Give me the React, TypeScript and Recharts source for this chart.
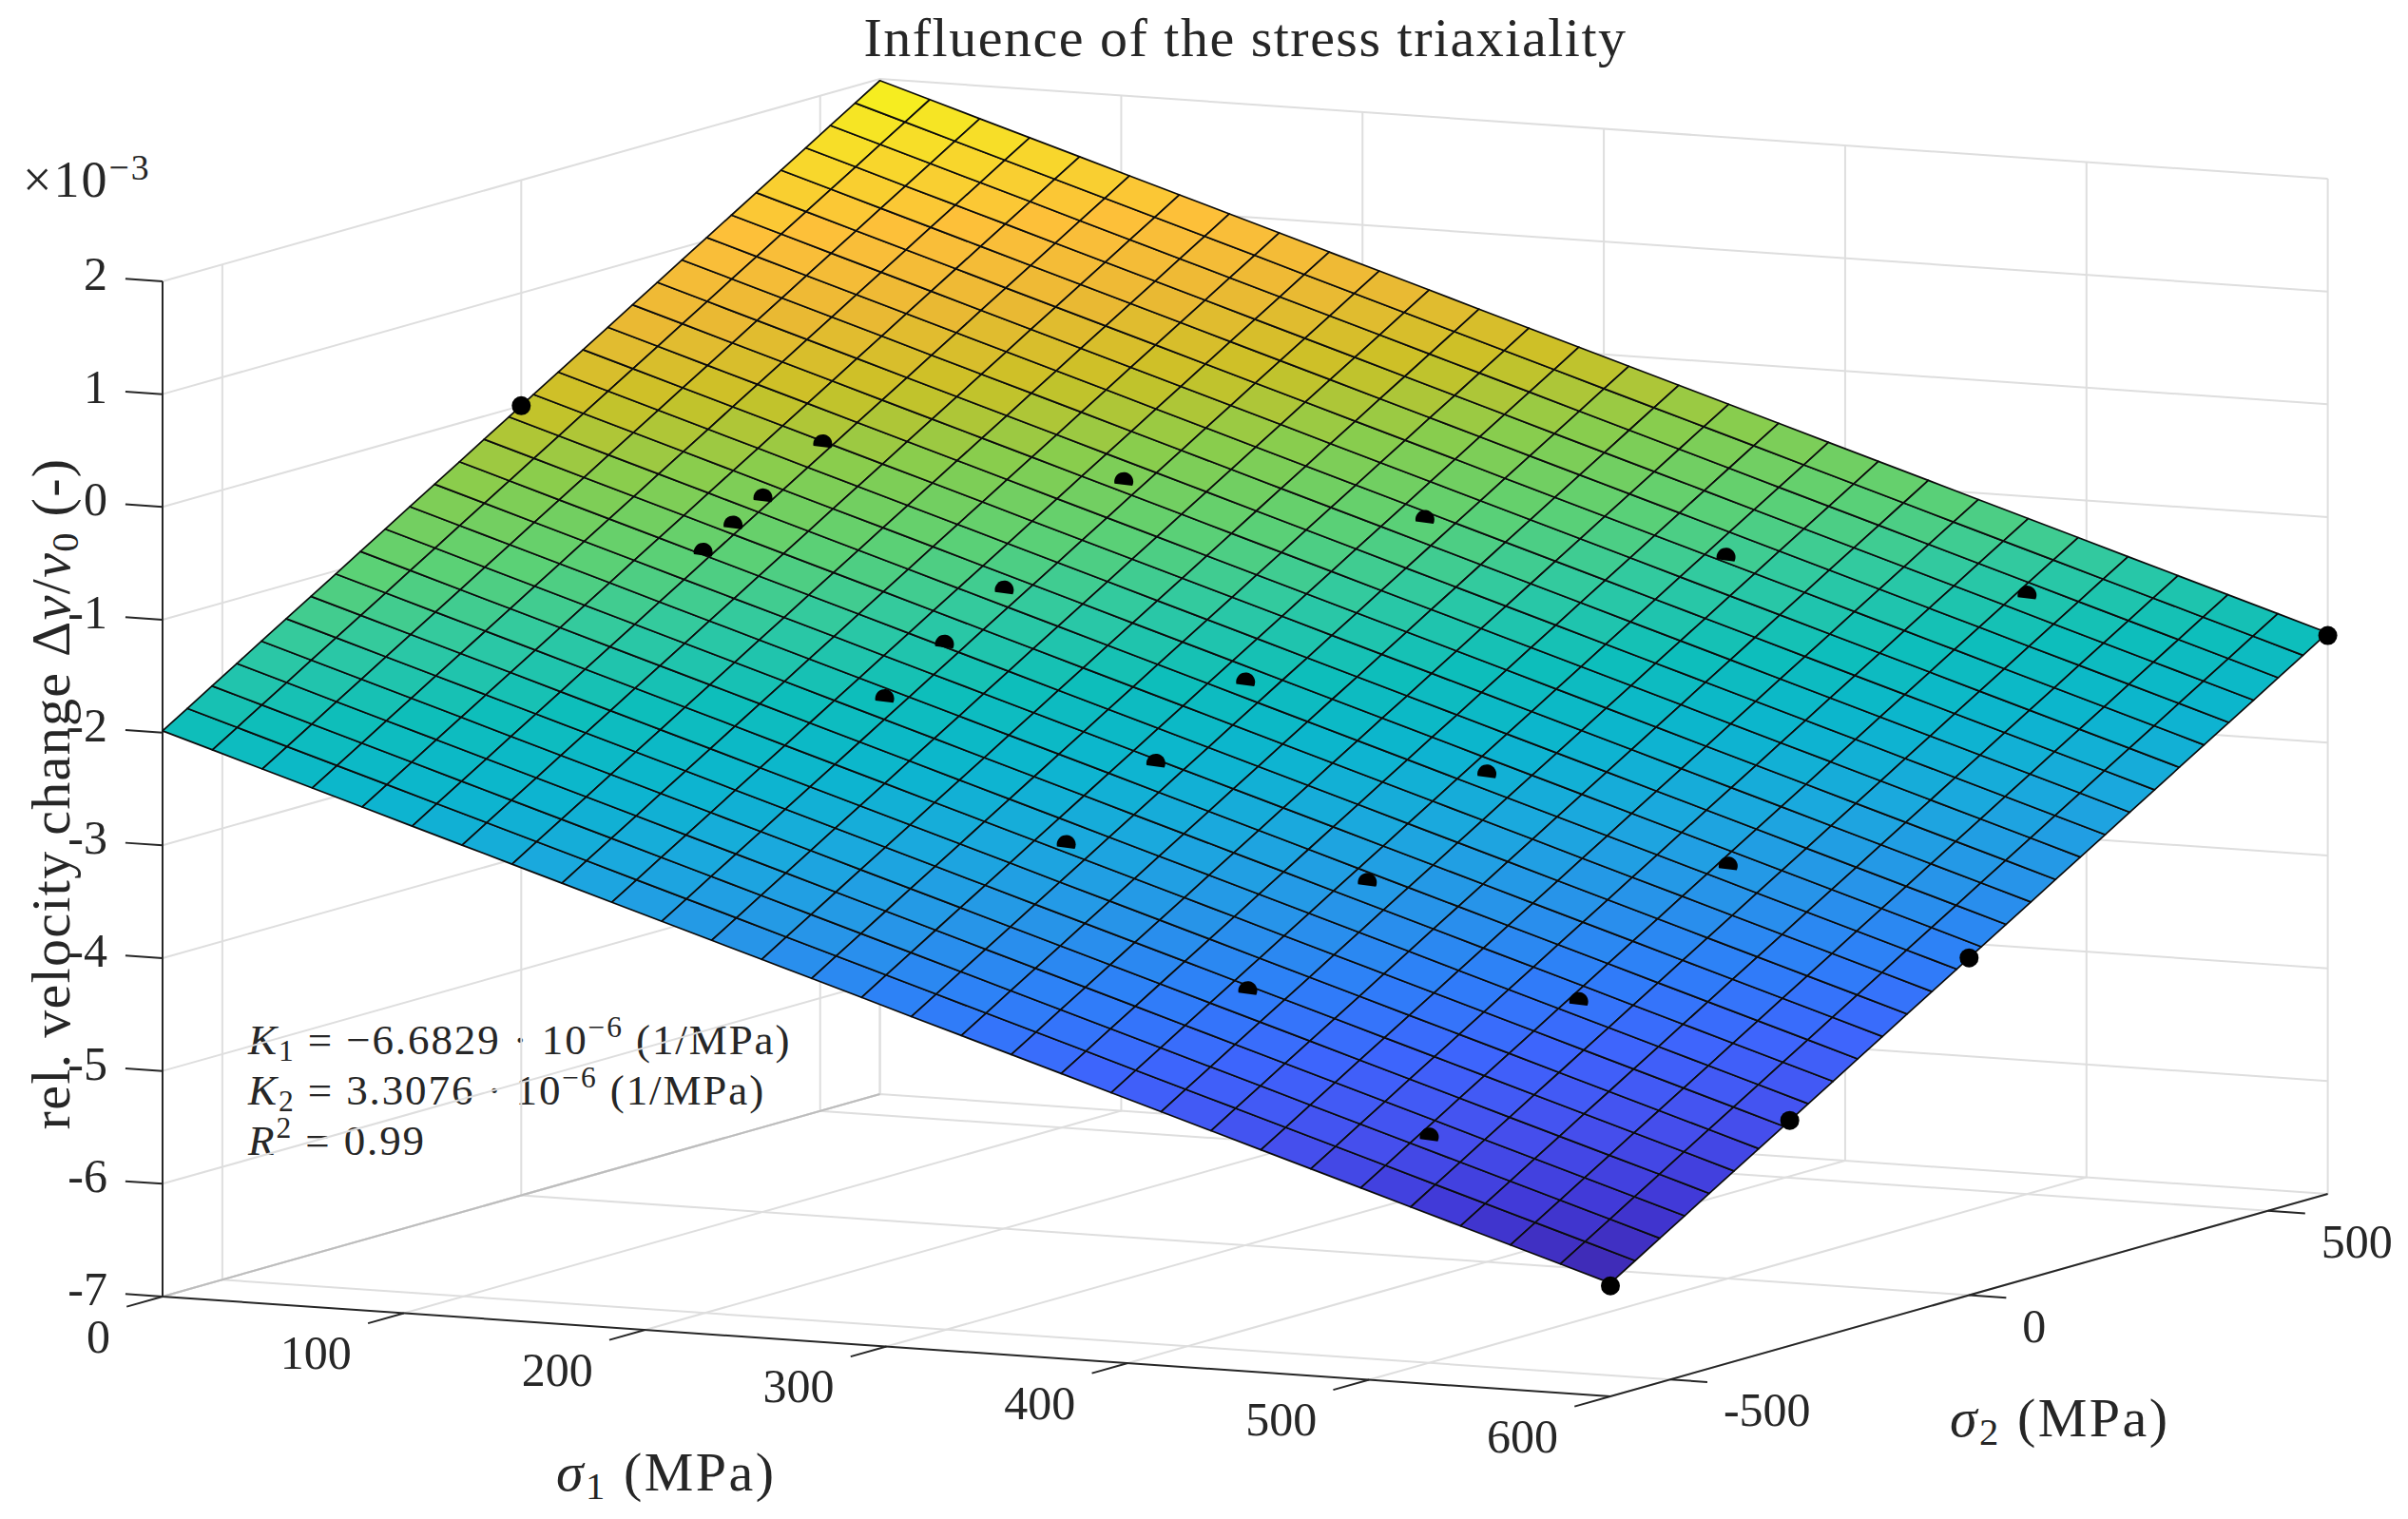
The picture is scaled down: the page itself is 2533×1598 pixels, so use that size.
import { ScatterChart, Scatter, XAxis, YAxis } from "recharts";

const W = 2533;
const H = 1598;
const FONT = "'Liberation Serif', serif";
const INK = "#262626";

// mesh nodes, MPa
const sigma1Nodes = [0, 20.69, 41.38, 62.07, 82.76, 103.45, 124.14, 144.83, 165.52, 186.21, 206.9, 227.59, 248.28, 268.97, 289.66, 310.34, 331.03, 351.72, 372.41, 393.1, 413.79, 434.48, 455.17, 475.86, 496.55, 517.24, 537.93, 558.62, 579.31, 600];
const sigma2Nodes = [-600, -558.62, -517.24, -475.86, -434.48, -393.1, -351.72, -310.34, -268.97, -227.59, -186.21, -144.83, -103.45, -62.07, -20.69, 20.69, 62.07, 103.45, 144.83, 186.21, 227.59, 268.97, 310.34, 351.72, 393.1, 434.48, 475.86, 517.24, 558.62, 600];

// surface height (x 10^-3), one row per sigma1 node
const surfaceZ = [
  [-1.985,-1.848,-1.711,-1.574,-1.437,-1.300,-1.164,-1.027,-0.890,-0.753,-0.616,-0.479,-0.342,-0.205,-0.068,0.069,0.205,0.342,0.479,0.616,0.753,0.890,1.027,1.164,1.301,1.438,1.574,1.711,1.848,1.985],
  [-2.123,-1.986,-1.849,-1.712,-1.575,-1.438,-1.302,-1.165,-1.028,-0.891,-0.754,-0.617,-0.480,-0.343,-0.206,-0.069,0.067,0.204,0.341,0.478,0.615,0.752,0.889,1.026,1.163,1.300,1.436,1.573,1.710,1.847],
  [-2.262,-2.125,-1.988,-1.851,-1.714,-1.577,-1.441,-1.304,-1.167,-1.030,-0.893,-0.756,-0.619,-0.482,-0.345,-0.208,-0.072,0.065,0.202,0.339,0.476,0.613,0.750,0.887,1.024,1.161,1.297,1.434,1.571,1.708],
  [-2.400,-2.263,-2.126,-1.989,-1.852,-1.715,-1.579,-1.442,-1.305,-1.168,-1.031,-0.894,-0.757,-0.620,-0.483,-0.346,-0.210,-0.073,0.064,0.201,0.338,0.475,0.612,0.749,0.886,1.023,1.159,1.296,1.433,1.570],
  [-2.538,-2.401,-2.264,-2.127,-1.990,-1.853,-1.717,-1.580,-1.443,-1.306,-1.169,-1.032,-0.895,-0.758,-0.621,-0.484,-0.348,-0.211,-0.074,0.063,0.200,0.337,0.474,0.611,0.748,0.885,1.021,1.158,1.295,1.432],
  [-2.677,-2.540,-2.403,-2.266,-2.129,-1.992,-1.856,-1.719,-1.582,-1.445,-1.308,-1.171,-1.034,-0.897,-0.760,-0.623,-0.487,-0.350,-0.213,-0.076,0.061,0.198,0.335,0.472,0.609,0.746,0.882,1.019,1.156,1.293],
  [-2.815,-2.678,-2.541,-2.404,-2.267,-2.130,-1.994,-1.857,-1.720,-1.583,-1.446,-1.309,-1.172,-1.035,-0.898,-0.761,-0.625,-0.488,-0.351,-0.214,-0.077,0.060,0.197,0.334,0.471,0.608,0.744,0.881,1.018,1.155],
  [-2.953,-2.816,-2.679,-2.542,-2.405,-2.268,-2.132,-1.995,-1.858,-1.721,-1.584,-1.447,-1.310,-1.173,-1.036,-0.899,-0.763,-0.626,-0.489,-0.352,-0.215,-0.078,0.059,0.196,0.333,0.470,0.606,0.743,0.880,1.017],
  [-3.091,-2.954,-2.817,-2.680,-2.543,-2.406,-2.270,-2.133,-1.996,-1.859,-1.722,-1.585,-1.448,-1.311,-1.174,-1.037,-0.901,-0.764,-0.627,-0.490,-0.353,-0.216,-0.079,0.058,0.195,0.332,0.468,0.605,0.742,0.879],
  [-3.230,-3.093,-2.956,-2.819,-2.682,-2.545,-2.409,-2.272,-2.135,-1.998,-1.861,-1.724,-1.587,-1.450,-1.313,-1.176,-1.040,-0.903,-0.766,-0.629,-0.492,-0.355,-0.218,-0.081,0.056,0.193,0.329,0.466,0.603,0.740],
  [-3.368,-3.231,-3.094,-2.957,-2.820,-2.683,-2.547,-2.410,-2.273,-2.136,-1.999,-1.862,-1.725,-1.588,-1.451,-1.314,-1.178,-1.041,-0.904,-0.767,-0.630,-0.493,-0.356,-0.219,-0.082,0.055,0.191,0.328,0.465,0.602],
  [-3.506,-3.369,-3.232,-3.095,-2.958,-2.821,-2.685,-2.548,-2.411,-2.274,-2.137,-2.000,-1.863,-1.726,-1.589,-1.452,-1.316,-1.179,-1.042,-0.905,-0.768,-0.631,-0.494,-0.357,-0.220,-0.083,0.053,0.190,0.327,0.464],
  [-3.645,-3.508,-3.371,-3.234,-3.097,-2.960,-2.824,-2.687,-2.550,-2.413,-2.276,-2.139,-2.002,-1.865,-1.728,-1.591,-1.455,-1.318,-1.181,-1.044,-0.907,-0.770,-0.633,-0.496,-0.359,-0.222,-0.086,0.051,0.188,0.325],
  [-3.783,-3.646,-3.509,-3.372,-3.235,-3.098,-2.962,-2.825,-2.688,-2.551,-2.414,-2.277,-2.140,-2.003,-1.866,-1.729,-1.593,-1.456,-1.319,-1.182,-1.045,-0.908,-0.771,-0.634,-0.497,-0.360,-0.224,-0.087,0.050,0.187],
  [-3.921,-3.784,-3.647,-3.510,-3.373,-3.236,-3.100,-2.963,-2.826,-2.689,-2.552,-2.415,-2.278,-2.141,-2.004,-1.867,-1.731,-1.594,-1.457,-1.320,-1.183,-1.046,-0.909,-0.772,-0.635,-0.498,-0.362,-0.225,-0.088,0.049],
  [-4.060,-3.923,-3.786,-3.649,-3.512,-3.375,-3.239,-3.102,-2.965,-2.828,-2.691,-2.554,-2.417,-2.280,-2.143,-2.006,-1.870,-1.733,-1.596,-1.459,-1.322,-1.185,-1.048,-0.911,-0.774,-0.637,-0.501,-0.364,-0.227,-0.090],
  [-4.198,-4.061,-3.924,-3.787,-3.650,-3.513,-3.377,-3.240,-3.103,-2.966,-2.829,-2.692,-2.555,-2.418,-2.281,-2.144,-2.008,-1.871,-1.734,-1.597,-1.460,-1.323,-1.186,-1.049,-0.912,-0.775,-0.639,-0.502,-0.365,-0.228],
  [-4.336,-4.199,-4.062,-3.925,-3.788,-3.651,-3.515,-3.378,-3.241,-3.104,-2.967,-2.830,-2.693,-2.556,-2.419,-2.282,-2.146,-2.009,-1.872,-1.735,-1.598,-1.461,-1.324,-1.187,-1.050,-0.913,-0.777,-0.640,-0.503,-0.366],
  [-4.474,-4.337,-4.200,-4.063,-3.926,-3.789,-3.653,-3.516,-3.379,-3.242,-3.105,-2.968,-2.831,-2.694,-2.557,-2.420,-2.284,-2.147,-2.010,-1.873,-1.736,-1.599,-1.462,-1.325,-1.188,-1.051,-0.915,-0.778,-0.641,-0.504],
  [-4.613,-4.476,-4.339,-4.202,-4.065,-3.928,-3.792,-3.655,-3.518,-3.381,-3.244,-3.107,-2.970,-2.833,-2.696,-2.559,-2.423,-2.286,-2.149,-2.012,-1.875,-1.738,-1.601,-1.464,-1.327,-1.190,-1.054,-0.917,-0.780,-0.643],
  [-4.751,-4.614,-4.477,-4.340,-4.203,-4.066,-3.930,-3.793,-3.656,-3.519,-3.382,-3.245,-3.108,-2.971,-2.834,-2.697,-2.561,-2.424,-2.287,-2.150,-2.013,-1.876,-1.739,-1.602,-1.465,-1.328,-1.192,-1.055,-0.918,-0.781],
  [-4.889,-4.752,-4.615,-4.478,-4.341,-4.204,-4.068,-3.931,-3.794,-3.657,-3.520,-3.383,-3.246,-3.109,-2.972,-2.835,-2.699,-2.562,-2.425,-2.288,-2.151,-2.014,-1.877,-1.740,-1.603,-1.466,-1.330,-1.193,-1.056,-0.919],
  [-5.028,-4.891,-4.754,-4.617,-4.480,-4.343,-4.207,-4.070,-3.933,-3.796,-3.659,-3.522,-3.385,-3.248,-3.111,-2.974,-2.838,-2.701,-2.564,-2.427,-2.290,-2.153,-2.016,-1.879,-1.742,-1.605,-1.469,-1.332,-1.195,-1.058],
  [-5.166,-5.029,-4.892,-4.755,-4.618,-4.481,-4.345,-4.208,-4.071,-3.934,-3.797,-3.660,-3.523,-3.386,-3.249,-3.112,-2.976,-2.839,-2.702,-2.565,-2.428,-2.291,-2.154,-2.017,-1.880,-1.743,-1.607,-1.470,-1.333,-1.196],
  [-5.304,-5.167,-5.030,-4.893,-4.756,-4.619,-4.483,-4.346,-4.209,-4.072,-3.935,-3.798,-3.661,-3.524,-3.387,-3.250,-3.114,-2.977,-2.840,-2.703,-2.566,-2.429,-2.292,-2.155,-2.018,-1.881,-1.745,-1.608,-1.471,-1.334],
  [-5.443,-5.306,-5.169,-5.032,-4.895,-4.758,-4.622,-4.485,-4.348,-4.211,-4.074,-3.937,-3.800,-3.663,-3.526,-3.389,-3.253,-3.116,-2.979,-2.842,-2.705,-2.568,-2.431,-2.294,-2.157,-2.020,-1.884,-1.747,-1.610,-1.473],
  [-5.581,-5.444,-5.307,-5.170,-5.033,-4.896,-4.760,-4.623,-4.486,-4.349,-4.212,-4.075,-3.938,-3.801,-3.664,-3.527,-3.391,-3.254,-3.117,-2.980,-2.843,-2.706,-2.569,-2.432,-2.295,-2.158,-2.022,-1.885,-1.748,-1.611],
  [-5.719,-5.582,-5.445,-5.308,-5.171,-5.034,-4.898,-4.761,-4.624,-4.487,-4.350,-4.213,-4.076,-3.939,-3.802,-3.665,-3.529,-3.392,-3.255,-3.118,-2.981,-2.844,-2.707,-2.570,-2.433,-2.296,-2.160,-2.023,-1.886,-1.749],
  [-5.857,-5.720,-5.583,-5.446,-5.309,-5.172,-5.036,-4.899,-4.762,-4.625,-4.488,-4.351,-4.214,-4.077,-3.940,-3.803,-3.667,-3.530,-3.393,-3.256,-3.119,-2.982,-2.845,-2.708,-2.571,-2.434,-2.298,-2.161,-2.024,-1.887],
  [-5.996,-5.859,-5.722,-5.585,-5.448,-5.311,-5.175,-5.038,-4.901,-4.764,-4.627,-4.490,-4.353,-4.216,-4.079,-3.942,-3.806,-3.669,-3.532,-3.395,-3.258,-3.121,-2.984,-2.847,-2.710,-2.573,-2.437,-2.300,-2.163,-2.026],
];

// measured points
const pointS1 = [0, 100, 200, 300, 400, 500, 600, 100, 100, 100, 200, 200, 200, 300, 300, 300, 400, 400, 400, 500, 500, 500, 600, 600, 600];
const pointS2 = [0, 100, 200, 300, 400, 500, 600, 0, -50, -100, 0, -100, -200, 0, -150, -300, 0, -200, -400, 0, -250, -500, 0, -300, -600];
const pointZ = [0, -0.338, -0.675, -1.013, -1.35, -1.688, -2.05, -0.668, -0.834, -1, -1.337, -1.668, -2, -2.005, -2.501, -2.997, -2.673, -3.335, -3.996, -3.342, -4.169, -4.996, -4.01, -5.002, -6.02];

// axis ticks
const s1Ticks = [0, 100, 200, 300, 400, 500, 600];
const s2Ticks = [-500, 0, 500];
const zTicks = [-7, -6, -5, -4, -3, -2, -1, 0, 1, 2];

// colour map, sampled along the surface
const colorZ = [-6, -5.5, -5, -4.5, -4, -3.5, -3, -2.5, -2, -1.5, -1, -0.5, 0, 0.5, 1, 1.5, 2];
const colorHex = ["#3f28ac", "#4037d5", "#4550ee", "#3e64fc", "#2e7ff8", "#2795e8", "#1ba8de", "#0cb5cf", "#0dbebb", "#2fc9a2", "#5ed173", "#88cd4e", "#cbc126", "#ebb934", "#fdbf3a", "#f7da2a", "#f5f51c"];

const S1_MIN = 0, S1_MAX = 600, S2_MIN = -600, S2_MAX = 600, Z_MIN = -7, Z_MAX = 2;

// orthographic view of the MATLAB box
function project(s1: number, s2: number, z: number) {
  return {
    x: 171 + s1 * (1523 / 600) + (s2 + 600) * (754.6 / 1200),
    y: 1364 + s1 * (105 / 600) - (s2 + 600) * (213 / 1200) - (z + 7) * 118.67,
  };
}

function colorOf(z: number) {
  let k = 0;
  while (k < colorZ.length - 2 && z > colorZ[k + 1]) k++;
  const t = Math.max(0, Math.min(1, (z - colorZ[k]) / (colorZ[k + 1] - colorZ[k])));
  const a = parseInt(colorHex[k].slice(1), 16);
  const b = parseInt(colorHex[k + 1].slice(1), 16);
  const mix = (sh: number) => Math.round(((a >> sh) & 255) * (1 - t) + ((b >> sh) & 255) * t);
  return `rgb(${mix(16)},${mix(8)},${mix(0)})`;
}

const cells: any[] = [];
for (let i = 0; i < sigma1Nodes.length - 1; i++) {
  for (let j = 0; j < sigma2Nodes.length - 1; j++) {
    const corners = [
      project(sigma1Nodes[i], sigma2Nodes[j], surfaceZ[i][j]),
      project(sigma1Nodes[i + 1], sigma2Nodes[j], surfaceZ[i + 1][j]),
      project(sigma1Nodes[i + 1], sigma2Nodes[j + 1], surfaceZ[i + 1][j + 1]),
      project(sigma1Nodes[i], sigma2Nodes[j + 1], surfaceZ[i][j + 1]),
    ];
    const mean = (surfaceZ[i][j] + surfaceZ[i + 1][j] + surfaceZ[i + 1][j + 1] + surfaceZ[i][j + 1]) / 4;
    cells.push({ ...corners[0], corners, fill: colorOf(mean) });
  }
}

const points = pointS1.map((s1, k) => ({ ...project(s1, pointS2[k], pointZ[k]), open: s1 === 0 || s1 === 600 }));

// box grid: two walls and the floor
const gridLines: any[][] = [];
zTicks.forEach((z) => {
  gridLines.push([project(S1_MIN, S2_MIN, z), project(S1_MIN, S2_MAX, z), project(S1_MAX, S2_MAX, z)]);
});
s1Ticks.forEach((s) => {
  gridLines.push([project(s, S2_MIN, Z_MIN), project(s, S2_MAX, Z_MIN), project(s, S2_MAX, Z_MAX)]);
});
s2Ticks.forEach((s) => {
  gridLines.push([project(S1_MIN, s, Z_MAX), project(S1_MIN, s, Z_MIN), project(S1_MAX, s, Z_MIN)]);
});
gridLines.push([project(S1_MIN, S2_MAX, Z_MIN), project(S1_MIN, S2_MAX, Z_MAX)]);

const TICK_S1 = 15.4; // tick length, in MPa along the other floor axis
const TICK_S2 = 60;
const tickLines: any[][] = [];
zTicks.forEach((z) => tickLines.push([project(S1_MIN, S2_MIN, z), project(S1_MIN - TICK_S1, S2_MIN, z)]));
s1Ticks.forEach((s) => tickLines.push([project(s, S2_MIN, Z_MIN), project(s, S2_MIN - TICK_S2, Z_MIN)]));
s2Ticks.forEach((s) => tickLines.push([project(S1_MAX, s, Z_MIN), project(S1_MAX + TICK_S1, s, Z_MIN)]));

const zLabels = zTicks.map((z) => ({ ...project(S1_MIN, S2_MIN, z), text: String(z), dx: -58, dy: 9, anchor: "end" }));
const s1Labels = s1Ticks.map((s) => ({ ...project(s, S2_MIN, Z_MIN), text: String(s), dx: -55, dy: 58.5, anchor: "end" }));
const s2Labels = s2Ticks.map((s) => ({ ...project(S1_MAX, s, Z_MIN), text: String(s), dx: 56, dy: 49, anchor: "start" }));
const tickLabels = [...zLabels, ...s1Labels, ...s2Labels];

const noMark = () => <g />;

const CellShape = (props: any) => {
  const { cx, cy, payload } = props;
  const pts = payload.corners.map((c: any) => `${cx + c.x - payload.x},${cy + c.y - payload.y}`).join(" ");
  return <polygon points={pts} fill={payload.fill} stroke="#0c0c0c" strokeWidth={1.7} strokeLinejoin="round" />;
};

const PointShape = (props: any) => {
  const { cx, cy, payload } = props;
  const r = 10;
  if (payload.open) return <circle cx={cx} cy={cy} r={r} fill="#000" />;
  // the surface hides the lower part of the marker
  const cut = 3.5;
  const half = Math.sqrt(r * r - cut * cut);
  return (
    <path
      d={`M${cx - half},${cy + cut - 1.2}A${r},${r} 0 1 1 ${cx + half},${cy + cut + 1.2}Z`}
      fill="#000"
    />
  );
};

const LabelShape = (props: any) => {
  const { cx, cy, payload } = props;
  return (
    <text x={cx + payload.dx} y={cy + payload.dy} textAnchor={payload.anchor} fontFamily={FONT} fontSize={50} fill={INK}>
      {payload.text}
    </text>
  );
};

type Part = { t: string; i?: boolean; shift?: number; small?: boolean };

function MathText({ x, y, size, parts, anchor, rotate, spacing }: { x: number; y: number; size: number; parts: Part[]; anchor?: string; rotate?: boolean; spacing?: number }) {
  let cur = 0;
  return (
    <text
      x={x}
      y={y}
      fontFamily={FONT}
      fontSize={size}
      fill={INK}
      textAnchor={anchor || "start"}
      transform={rotate ? `rotate(-90 ${x} ${y})` : undefined}
      style={{ whiteSpace: "pre", letterSpacing: spacing || 0 }}
    >
      {parts.map((p, k) => {
        const shift = p.shift || 0;
        const dy = (cur - shift) * size;
        cur = shift;
        return (
          <tspan key={k} dy={dy} fontStyle={p.i ? "italic" : "normal"} fontSize={p.small ? size * 0.7 : size}>
            {p.t}
          </tspan>
        );
      })}
    </text>
  );
}

export default function App() {
  return (
    <div style={{ position: "absolute", left: 0, top: 0, width: W, height: H, background: "#fff" }}>
      <ScatterChart width={W} height={H} margin={{ top: 0, right: 0, bottom: 0, left: 0 }}>
        <XAxis type="number" dataKey="x" domain={[0, W]} hide />
        <YAxis type="number" dataKey="y" domain={[0, H]} reversed hide />

        {gridLines.map((seg, k) => (
          <Scatter key={"g" + k} data={seg} shape={noMark} line={{ stroke: "#dedede", strokeWidth: 2 }} isAnimationActive={false} />
        ))}
        <Scatter
          data={[project(S1_MIN, S2_MIN, Z_MIN), project(S1_MIN, S2_MAX, Z_MIN)]}
          shape={noMark}
          line={{ stroke: "#bdbdbd", strokeWidth: 2 }}
          isAnimationActive={false}
        />

        {/* axes */}
        <Scatter data={[project(S1_MIN, S2_MIN, Z_MAX), project(S1_MIN, S2_MIN, Z_MIN), project(S1_MAX, S2_MIN, Z_MIN), project(S1_MAX, S2_MAX, Z_MIN)]} shape={noMark} line={{ stroke: INK, strokeWidth: 2 }} isAnimationActive={false} />
        {tickLines.map((seg, k) => (
          <Scatter key={"t" + k} data={seg} shape={noMark} line={{ stroke: INK, strokeWidth: 2 }} isAnimationActive={false} />
        ))}

        <Scatter data={tickLabels} shape={LabelShape} isAnimationActive={false} />
        <Scatter data={cells} shape={CellShape} isAnimationActive={false} />
        <Scatter data={points} shape={PointShape} isAnimationActive={false} />

        <MathText x={1310} y={59} size={58} spacing={1.5} anchor="middle" parts={[{ t: "Influence of the stress triaxiality" }]} />
        <MathText x={24} y={207} size={54} spacing={2} parts={[{ t: "×10" }, { t: "−3", shift: 0.34, small: true }]} />
        <MathText x={73} y={835} size={58} spacing={1.3} anchor="middle" rotate parts={[
          { t: "rel. velocity change Δ" }, { t: "v", i: true }, { t: "/" }, { t: "v", i: true }, { t: "0", shift: -0.16, small: true }, { t: " (-)" },
        ]} />
        <MathText x={585} y={1568} size={58} spacing={2.5} parts={[{ t: "σ", i: true }, { t: "1", shift: -0.16, small: true }, { t: " (MPa)" }]} />
        <MathText x={2051} y={1511} size={58} spacing={2.5} parts={[{ t: "σ", i: true }, { t: "2", shift: -0.16, small: true }, { t: " (MPa)" }]} />
        <MathText x={261} y={1109} size={45} spacing={1.9} parts={[
          { t: "K", i: true }, { t: "1", shift: -0.16, small: true }, { t: " = −6.6829 · 10" }, { t: "−6", shift: 0.4, small: true }, { t: " (1/MPa)" },
        ]} />
        <MathText x={261} y={1162} size={45} spacing={1.9} parts={[
          { t: "K", i: true }, { t: "2", shift: -0.16, small: true }, { t: " = 3.3076 · 10" }, { t: "−6", shift: 0.4, small: true }, { t: " (1/MPa)" },
        ]} />
        <MathText x={261} y={1215} size={45} spacing={1.9} parts={[
          { t: "R", i: true }, { t: "2", shift: 0.4, small: true }, { t: " = 0.99" },
        ]} />
      </ScatterChart>
    </div>
  );
}
